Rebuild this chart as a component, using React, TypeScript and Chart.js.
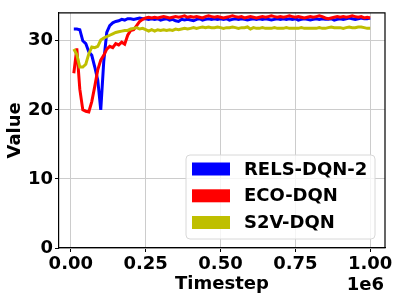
import React, { useEffect, useRef } from "react";
import { Chart, registerables } from "chart.js";
Chart.register(...registerables);

// Timesteps in thousands
const TIMESTEPS_K = [
  10, 20, 30, 40, 50, 60, 70, 80, 90, 100,
  110, 120, 130, 140, 150, 160, 170, 180, 190, 200,
  210, 220, 230, 240, 250, 260, 270, 280, 290, 300,
  310, 320, 330, 340, 350, 360, 370, 380, 390, 400,
  410, 420, 430, 440, 450, 460, 470, 480, 490, 500,
  510, 520, 530, 540, 550, 560, 570, 580, 590, 600,
  610, 620, 630, 640, 650, 660, 670, 680, 690, 700,
  710, 720, 730, 740, 750, 760, 770, 780, 790, 800,
  810, 820, 830, 840, 850, 860, 870, 880, 890, 900,
  910, 920, 930, 940, 950, 960, 970, 980, 990, 1000,
];

const RELS_DQN_2 = [
  31.7, 31.7, 31.6, 30.0, 29.6, 28.4, 27.9, 26.2, 24.3, 20.0,
  27.0, 31.2, 32.2, 32.6, 32.8, 32.9, 33.1, 33.0, 33.2, 33.2,
  33.1, 33.2, 33.3, 33.2, 33.2, 33.1, 33.2, 33.1, 33.2, 33.0,
  33.1, 33.2, 33.0, 33.1, 32.9, 32.8, 33.1, 33.0, 33.1, 33.0,
  32.9, 33.1, 33.2, 33.0, 33.1, 33.2, 33.1, 33.2, 33.1, 33.2,
  33.1, 33.2, 33.0, 33.1, 33.2, 33.1, 33.2, 33.1, 33.0, 33.1,
  33.2, 33.1, 33.2, 33.1, 33.2, 33.1, 33.0, 33.1, 33.2, 33.1,
  33.2, 33.1, 33.2, 33.1, 33.2, 33.0, 33.1, 33.2, 33.1, 33.0,
  33.1, 33.2, 33.1, 33.2, 33.1, 33.1, 33.2, 33.0, 33.1, 33.2,
  33.1, 33.2, 33.3, 33.2, 33.1, 33.2, 33.3, 33.2, 33.2, 33.3,
];

const ECO_DQN = [
  25.3, 28.9, 23.0, 20.0, 19.8, 19.7, 21.2, 23.4, 25.8, 27.2,
  27.9, 28.8, 29.2, 29.0, 29.6, 29.4, 29.8, 29.5, 30.8, 31.5,
  31.6, 32.2, 32.8, 33.1, 33.3, 33.4, 33.3, 33.4, 33.3, 33.4,
  33.5, 33.4, 33.3, 33.4, 33.5, 33.4, 33.5, 33.6, 33.4, 33.5,
  33.4, 33.5, 33.4, 33.3, 33.5, 33.6, 33.5, 33.4, 33.5, 33.4,
  33.3, 33.4, 33.5, 33.6, 33.5, 33.4, 33.5, 33.3, 33.4, 33.5,
  33.4, 33.3, 33.4, 33.5, 33.4, 33.5, 33.6, 33.5, 33.4, 33.5,
  33.4, 33.5, 33.6, 33.5, 33.4, 33.5, 33.4, 33.3, 33.4, 33.5,
  33.4, 33.5, 33.6, 33.5, 33.3, 33.2, 33.3, 33.4, 33.5, 33.4,
  33.5, 33.4, 33.5, 33.6, 33.5, 33.4, 33.5, 33.3, 33.4, 33.3,
];

const S2V_DQN = [
  28.8, 28.0, 26.2, 26.2, 26.6, 28.1, 29.1, 29.0, 29.2, 30.1,
  30.4, 30.6, 30.8, 31.0, 31.2, 31.3, 31.4, 31.5, 31.5, 31.7,
  31.8, 31.9, 31.7, 31.8, 31.6, 31.4, 31.6, 31.4, 31.6, 31.5,
  31.6, 31.5, 31.6, 31.5, 31.7, 31.6, 31.7, 31.8, 31.7, 31.8,
  31.9, 31.8, 31.9, 32.0, 31.9, 32.0, 31.9, 31.9, 32.0, 31.9,
  31.8, 31.9, 31.9, 32.0, 31.9, 31.8, 31.9, 31.9, 32.0, 31.7,
  31.9, 31.8, 31.8, 31.9, 31.8, 31.8, 31.8, 31.9, 31.8, 31.8,
  31.8, 31.9, 31.8, 31.8, 31.8, 31.8, 31.9, 31.8, 31.8, 31.8,
  31.8, 31.8, 31.9, 31.8, 31.8, 31.9, 32.0, 31.9, 31.9, 31.9,
  31.8, 31.9, 32.0, 31.9, 31.9, 32.0, 32.0, 31.9, 31.8, 31.8,
];

const SERIES_NAMES = ["RELS-DQN-2", "ECO-DQN", "S2V-DQN"];
const SERIES_VALUES = [RELS_DQN_2, ECO_DQN, S2V_DQN];
const SERIES_COLORS = ["#0000ff", "#ff0000", "#bfbf00"];
const X_TICKS = [0, 250000, 500000, 750000, 1000000];
const Y_TICKS = [0, 10, 20, 30];
const X_TITLE = "Timestep";
const Y_TITLE = "Value";
const X_OFFSET_TEXT = "1e6";

const FAMILY = "'DejaVu Sans', 'Liberation Sans', sans-serif";

export default function App() {
  const ref = useRef<HTMLCanvasElement>(null);

  useEffect(() => {
    if (!ref.current) return;
    const boldFont = { family: FAMILY, size: 18, weight: "bold" as const };

    const frame = {
      id: "frame",
      afterDraw(chart: any) {
        const { ctx, chartArea } = chart;
        const { left, right, top, bottom } = chartArea;
        ctx.save();
        // top and right spines
        ctx.strokeStyle = "#000";
        ctx.lineWidth = 1.2;
        ctx.beginPath();
        ctx.moveTo(left, top);
        ctx.lineTo(right, top);
        ctx.lineTo(right, bottom);
        ctx.stroke();

        // offset text
        ctx.fillStyle = "#000";
        ctx.font = `bold 18px ${FAMILY}`;
        ctx.textAlign = "right";
        ctx.textBaseline = "alphabetic";
        ctx.fillText(X_OFFSET_TEXT, right - 1, 290);

        // legend
        const bx = 186, by = 155, bw = 189, bh = 84, r = 4;
        ctx.beginPath();
        ctx.moveTo(bx + r, by);
        ctx.lineTo(bx + bw - r, by);
        ctx.quadraticCurveTo(bx + bw, by, bx + bw, by + r);
        ctx.lineTo(bx + bw, by + bh - r);
        ctx.quadraticCurveTo(bx + bw, by + bh, bx + bw - r, by + bh);
        ctx.lineTo(bx + r, by + bh);
        ctx.quadraticCurveTo(bx, by + bh, bx, by + bh - r);
        ctx.lineTo(bx, by + r);
        ctx.quadraticCurveTo(bx, by, bx + r, by);
        ctx.closePath();
        ctx.fillStyle = "rgba(255,255,255,0.8)";
        ctx.fill();
        ctx.strokeStyle = "#d8d8d8";
        ctx.lineWidth = 1;
        ctx.stroke();

        const rowCenters = [169, 195.8, 222.5];
        SERIES_NAMES.forEach((name, i) => {
          const cy = rowCenters[i];
          ctx.fillStyle = SERIES_COLORS[i];
          ctx.fillRect(192, cy - 6.5, 38, 13);
          ctx.fillStyle = "#000";
          ctx.textAlign = "left";
          ctx.textBaseline = "middle";
          ctx.fillText(name, 244, cy + 1);
        });
        ctx.restore();
      },
    };

    const chart = new Chart(ref.current, {
      type: "line",
      data: {
        datasets: SERIES_NAMES.map((name, i) => ({
          label: name,
          data: TIMESTEPS_K.map((k, j) => ({ x: k * 1000, y: SERIES_VALUES[i][j] })),
          borderColor: SERIES_COLORS[i],
          backgroundColor: SERIES_COLORS[i],
          borderWidth: 3,
          pointRadius: 0,
          tension: 0,
          fill: false,
          order: 3 - i,
        })),
      },
      options: {
        responsive: false,
        animation: false,
        layout: { padding: { left: 0, right: 14, top: 6, bottom: 0 } },
        plugins: {
          legend: { display: false },
          tooltip: { enabled: false },
        },
        scales: {
          x: {
            type: "linear",
            min: -39500,
            max: 1049500,
            afterBuildTicks: (s: any) => {
              s.ticks = X_TICKS.map((v) => ({ value: v }));
            },
            afterFit: (s: any) => {
              s.height = 53;
            },
            ticks: {
              callback: (v: any) => (Number(v) / 1e6).toFixed(2),
              font: boldFont,
              color: "#000",
              padding: 2,
              maxRotation: 0,
              autoSkip: false,
            },
            grid: { color: "#cccccc", tickColor: "#000", tickLength: 4, lineWidth: 1 },
            border: { color: "#000", width: 1.2 },
            title: {
              display: true,
              text: X_TITLE,
              font: boldFont,
              color: "#000",
              padding: { top: 0, bottom: 6 },
            },
          },
          y: {
            type: "linear",
            min: 0,
            max: 34.05,
            afterBuildTicks: (s: any) => {
              s.ticks = Y_TICKS.map((v) => ({ value: v }));
            },
            afterFit: (s: any) => {
              s.width = 59;
            },
            ticks: {
              callback: (v: any) => String(v),
              font: boldFont,
              color: "#000",
              padding: 2,
              autoSkip: false,
            },
            grid: { color: "#cccccc", tickColor: "#000", tickLength: 4, lineWidth: 1 },
            border: { color: "#000", width: 1.2 },
            title: {
              display: true,
              text: Y_TITLE,
              font: boldFont,
              color: "#000",
              padding: { top: 5, bottom: 0 },
            },
          },
        },
      },
      plugins: [frame],
    } as any);

    return () => chart.destroy();
  }, []);

  return (
    <div style={{ position: "fixed", left: 0, top: 0, width: 399, height: 301, background: "#fff" }}>
      <canvas ref={ref} width={399} height={301} style={{ display: "block" }} />
    </div>
  );
}
